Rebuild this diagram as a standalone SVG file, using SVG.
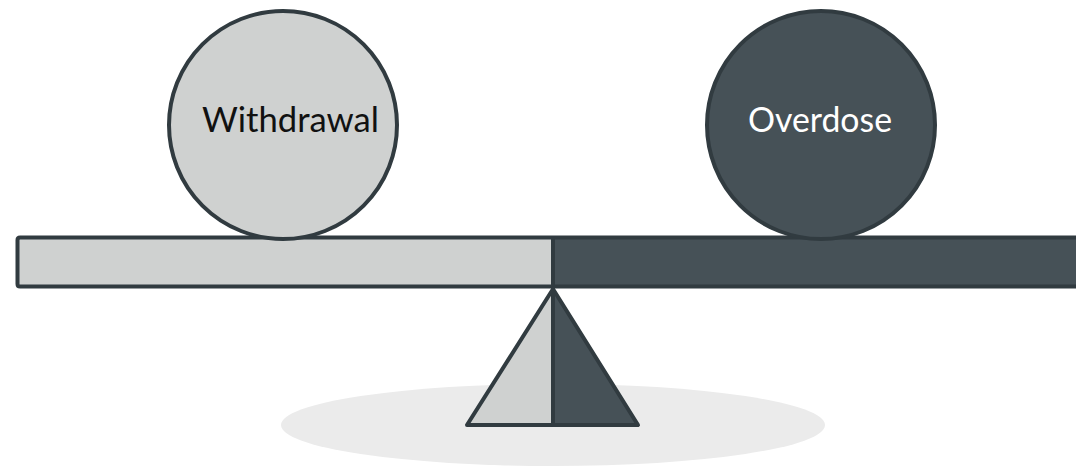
<svg xmlns="http://www.w3.org/2000/svg" width="1076" height="466" viewBox="0 0 1076 466">
<style>
.light{fill:#cfd1d0}
.dark{fill:#465157}
.edge{stroke:#313b40;stroke-width:4;stroke-linejoin:round}
.lbl{font-family:Lato,"Open Sans",sans-serif;font-size:34px;text-anchor:middle}
</style>
<rect width="1076" height="466" fill="#ffffff"/>
<ellipse id="shadow" cx="553" cy="425" rx="272" ry="41" fill="#ebebeb"/>
<g id="fulcrum">
<polygon class="light edge" points="553,289 553,425 467,425"/>
<polygon class="dark edge" points="553,289 638,425 553,425"/>
</g>
<g id="beam">
<rect class="light" x="17.5" y="237.5" width="535.5" height="49"/>
<rect class="dark" x="553" y="237.5" width="530" height="49"/>
<path class="edge" fill="none" stroke-width="5" d="M1085,237.5 H20 Q17.5,237.5 17.5,240 V284 Q17.5,286.5 20,286.5 H1085"/>
<line class="edge" x1="553" y1="237.5" x2="553" y2="286.5"/>
</g>
<g id="withdrawal">
<circle class="light edge" cx="283" cy="125" r="114"/>
<text class="lbl" x="290.5" y="132" fill="#111111" textLength="177" lengthAdjust="spacingAndGlyphs">Withdrawal</text>
</g>
<g id="overdose">
<circle class="dark edge" cx="821" cy="125" r="114"/>
<text class="lbl" x="820" y="132" fill="#ffffff" textLength="144" lengthAdjust="spacingAndGlyphs">Overdose</text>
</g>
</svg>
